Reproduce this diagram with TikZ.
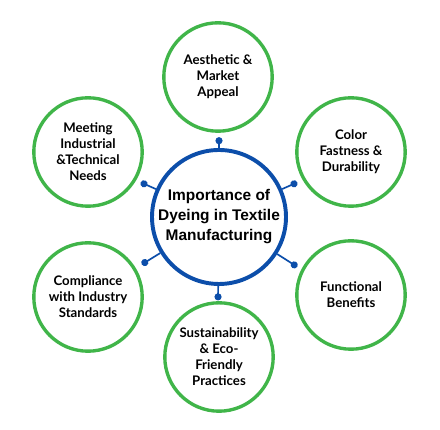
\documentclass[tikz,border=0pt]{standalone}
\usepackage{fontspec}
\setmainfont{Lato}
\newfontfamily\hubfont{Liberation Sans}
\usetikzlibrary{arrows.meta}
\definecolor{hubblue}{RGB}{12,78,170}
\definecolor{leafgreen}{RGB}{64,181,73}
\tikzset{
  hub/.style={circle, draw=hubblue, line width=2.8pt, fill=white,
    minimum size=3.35cm, inner sep=0pt, align=center,
    font=\hubfont\bfseries\fontsize{11}{14.2}\selectfont},
  leaf/.style={circle, draw=leafgreen, line width=2.4pt, fill=white,
    minimum size=2.71cm, inner sep=0pt, align=center,
    font=\bfseries\fontsize{9.4}{11.4}\selectfont},
  link/.style={-{Circle[length=5pt]}, draw=hubblue, line width=1.2pt},
}
\begin{document}
\begin{tikzpicture}
  \useasboundingbox (0,0) rectangle (11,10.75);

  % Central topic
  \node[hub] (core) at (5.475,5.325)
       {Importance of\\Dyeing in Textile\\Manufacturing};

  % Surrounding aspects
  \node[leaf] (aesth)  at (5.45,8.825)  {Aesthetic \&\\Market\\Appeal};
  \node[leaf] (fast)   at (8.775,6.95)  {Color\\Fastness \&\\Durability};
  \node[leaf] (func)   at (8.775,3.375) {Functional\\Benefits};
  \node[leaf] (sust)   at (5.475,1.825) {Sustainability\\\& Eco-\\Friendly\\Practices};
  \node[leaf] (compl)  at (2.2,3.325)   {Compliance\\with Industry\\Standards};
  \node[leaf] (indus)  at (2.2,6.95)    {Meeting\\Industrial\\\&Technical\\Needs};

  % Connector end points
  \coordinate (pAesth) at (5.475,7.32);
  \coordinate (pFast)  at (7.43,6.19);
  \coordinate (pFunc)  at (7.43,4.08);
  \coordinate (pSust)  at (5.45,3.24);
  \coordinate (pCompl) at (3.545,4.14);
  \coordinate (pIndus) at (3.52,6.19);

  % Connectors
  \draw[link] (core) -- (pAesth);
  \draw[link] (core) -- (pFast);
  \draw[link] (core) -- (pFunc);
  \draw[link] (core) -- (pSust);
  \draw[link] (core) -- (pCompl);
  \draw[link] (core) -- (pIndus);
\end{tikzpicture}
\end{document}
